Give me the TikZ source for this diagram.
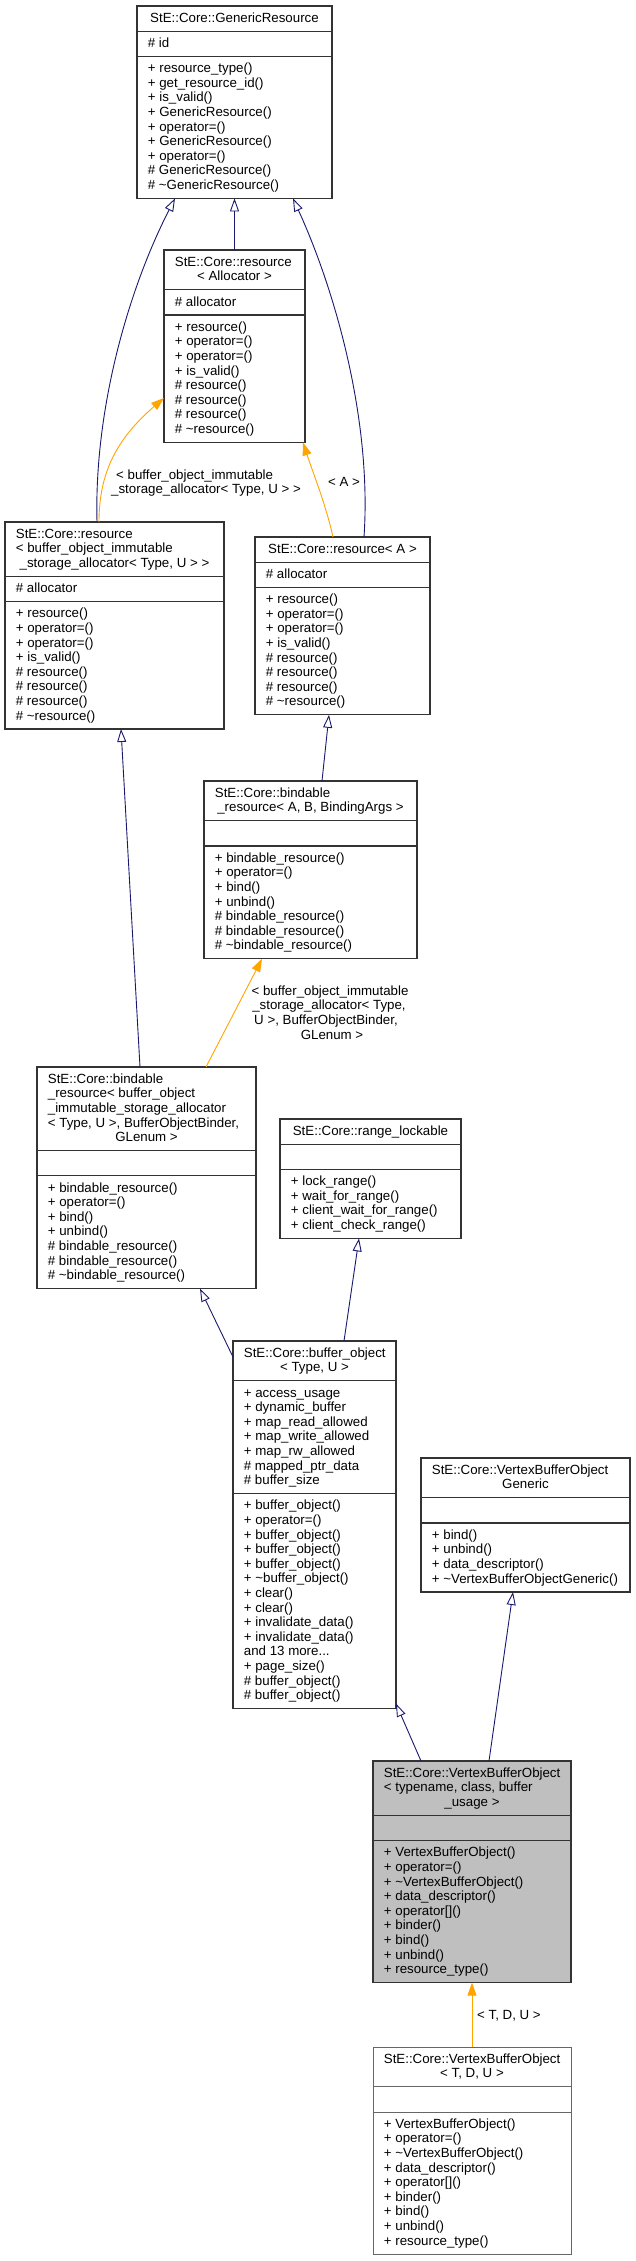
\documentclass[tikz,border=0pt]{standalone}
\usepackage{fontspec}
\setmainfont{Liberation Sans}
\usetikzlibrary{arrows.meta,calc}
\definecolor{edgeblue}{HTML}{191970}
\definecolor{edgeorange}{HTML}{FFA500}
\definecolor{boxc}{HTML}{333333}
\definecolor{greyc}{HTML}{666666}
\definecolor{fillgrey}{HTML}{BFBFBF}
\newcommand\umlbox[8]{%
  \pgfmathsetmacro\hA{#5*14.6+10.6}%
  \pgfmathsetmacro\hB{#6*14.6+10.6}%
  \pgfmathsetmacro\hC{#7*14.6+10.6}%
  \pgfmathsetmacro\hT{\hA+\hB+\hC}%
  \pgfmathsetmacro\hAB{\hA+\hB}%
  \pgfmathsetmacro\bx{#2+10.7}%
  \pgfmathsetmacro\bc{#2+#4/2}%
  \pgfmathsetmacro\syA{#3+16.3}%
  \pgfmathsetmacro\syB{#3+\hA+16.3}%
  \pgfmathsetmacro\syC{#3+\hAB+16.3}%
  \node[#8, minimum width=#4pt, minimum height=\hT pt, anchor=north west] (#1) at (#2,#3) {};%
  \draw[#8] ($(#1.north west)+(0,\hA)$) -- ($(#1.north east)+(0,\hA)$);%
  \draw[#8] ($(#1.north west)+(0,\hAB)$) -- ($(#1.north east)+(0,\hAB)$);%
}
\newcommand\secA{\let\lx\bx\let\ly\syA}
\newcommand\secB{\let\lx\bx\let\ly\syB}
\newcommand\secC{\let\lx\bx\let\ly\syC}
\newcount\tn
\newcommand\umlL[1]{\global\advance\tn by 1\relax\node[txt] (t\the\tn) at (\lx,\ly) {#1};\pgfmathsetmacro\ly{\ly+14.6}}
\newcommand\umlC[1]{\global\advance\tn by 1\relax\node[ctxt] (t\the\tn) at (\bc,\ly) {#1};\pgfmathsetmacro\ly{\ly+14.6}}
\begin{document}
\begin{tikzpicture}[x=1pt,y=-1pt,
  txt/.style={anchor=base west, inner sep=0pt, font=\fontsize{13.3}{14.6}\selectfont},
  ctxt/.style={anchor=base, inner sep=0pt, font=\fontsize{13.3}{14.6}\selectfont},
  box/.style={draw=boxc, line width=1.1pt, fill=white, inner sep=0pt, outer sep=0pt},
  greybox/.style={draw=greyc, line width=0.8pt, fill=white, inner sep=0pt, outer sep=0pt},
  focusbox/.style={draw=boxc, line width=1.1pt, fill=fillgrey, inner sep=0pt, outer sep=0pt},
  inh/.style={draw=edgeblue, line width=0.9pt, -{Triangle[open, length=13pt, width=9pt]}},
  tmpl/.style={draw=edgeorange, line width=0.9pt, -{Triangle[length=13pt, width=9pt]}},
  lab/.style={anchor=base west, inner sep=0pt, font=\fontsize{13.3}{14.6}\selectfont},
  clab/.style={anchor=base, inner sep=0pt, font=\fontsize{13.3}{14.6}\selectfont}]
\fill[white] (0,0) rectangle (635,2261);
\useasboundingbox (0,0) rectangle (635,2261);

% GenericResource
\umlbox{gr}{137}{6}{195}{1}{1}{9}{box}
\secA \umlC{StE::Core::GenericResource}
\secB \umlL{\# id}
\secC \umlL{+ resource\_type()} \umlL{+ get\_resource\_id()} \umlL{+ is\_valid()}
\umlL{+ GenericResource()} \umlL{+ operator=()} \umlL{+ GenericResource()}
\umlL{+ operator=()} \umlL{\# GenericResource()} \umlL{\# \textasciitilde GenericResource()}

% resource<Allocator>
\umlbox{ra}{164}{250}{141}{2}{1}{8}{box}
\secA \umlL{StE::Core::resource} \umlC{< Allocator >}
\secB \umlL{\# allocator}
\secC \umlL{+ resource()} \umlL{+ operator=()} \umlL{+ operator=()} \umlL{+ is\_valid()}
\umlL{\# resource()} \umlL{\# resource()} \umlL{\# resource()} \umlL{\# \textasciitilde resource()}

% resource<buffer_object_immutable...>
\umlbox{rb}{5}{522}{219}{3}{1}{8}{box}
\secA \umlL{StE::Core::resource} \umlL{< buffer\_object\_immutable} \umlC{\_storage\_allocator< Type, U > >}
\secB \umlL{\# allocator}
\secC \umlL{+ resource()} \umlL{+ operator=()} \umlL{+ operator=()} \umlL{+ is\_valid()}
\umlL{\# resource()} \umlL{\# resource()} \umlL{\# resource()} \umlL{\# \textasciitilde resource()}

% resource<A>
\umlbox{rA}{255}{537}{175}{1}{1}{8}{box}
\secA \umlC{StE::Core::resource< A >}
\secB \umlL{\# allocator}
\secC \umlL{+ resource()} \umlL{+ operator=()} \umlL{+ operator=()} \umlL{+ is\_valid()}
\umlL{\# resource()} \umlL{\# resource()} \umlL{\# resource()} \umlL{\# \textasciitilde resource()}

% bindable_resource<A,B,BindingArgs>
\umlbox{bAB}{204}{781}{213}{2}{1}{7}{box}
\secA \umlL{StE::Core::bindable} \umlC{\_resource< A, B, BindingArgs >}
\secC \umlL{+ bindable\_resource()} \umlL{+ operator=()} \umlL{+ bind()} \umlL{+ unbind()}
\umlL{\# bindable\_resource()} \umlL{\# bindable\_resource()} \umlL{\# \textasciitilde bindable\_resource()}

% bindable_resource<buffer...>
\umlbox{bb}{37}{1067}{219}{5}{1}{7}{box}
\secA \umlL{StE::Core::bindable} \umlL{\_resource< buffer\_object} \umlL{\_immutable\_storage\_allocator}
\umlL{< Type, U >, BufferObjectBinder,} \umlC{GLenum >}
\secC \umlL{+ bindable\_resource()} \umlL{+ operator=()} \umlL{+ bind()} \umlL{+ unbind()}
\umlL{\# bindable\_resource()} \umlL{\# bindable\_resource()} \umlL{\# \textasciitilde bindable\_resource()}

% range_lockable
\umlbox{rl}{280}{1119}{181}{1}{1}{4}{box}
\secA \umlC{StE::Core::range\_lockable}
\secC \umlL{+ lock\_range()} \umlL{+ wait\_for\_range()} \umlL{+ client\_wait\_for\_range()} \umlL{+ client\_check\_range()}

% buffer_object
\umlbox{bo}{233}{1341}{163}{2}{7}{14}{box}
\secA \umlL{StE::Core::buffer\_object} \umlC{< Type, U >}
\secB \umlL{+ access\_usage} \umlL{+ dynamic\_buffer} \umlL{+ map\_read\_allowed} \umlL{+ map\_write\_allowed}
\umlL{+ map\_rw\_allowed} \umlL{\# mapped\_ptr\_data} \umlL{\# buffer\_size}
\secC \umlL{+ buffer\_object()} \umlL{+ operator=()} \umlL{+ buffer\_object()} \umlL{+ buffer\_object()}
\umlL{+ buffer\_object()} \umlL{+ \textasciitilde buffer\_object()} \umlL{+ clear()} \umlL{+ clear()}
\umlL{+ invalidate\_data()} \umlL{+ invalidate\_data()} \umlL{and 13 more...} \umlL{+ page\_size()}
\umlL{\# buffer\_object()} \umlL{\# buffer\_object()}

% VertexBufferObjectGeneric
\umlbox{vg}{421}{1458}{209}{2}{1}{4}{box}
\secA \umlL{StE::Core::VertexBufferObject} \umlC{Generic}
\secC \umlL{+ bind()} \umlL{+ unbind()} \umlL{+ data\_descriptor()} \umlL{+ \textasciitilde VertexBufferObjectGeneric()}

% VertexBufferObject<typename,class,buffer_usage>
\umlbox{vbo}{373}{1761}{198}{3}{1}{9}{focusbox}
\secA \umlL{StE::Core::VertexBufferObject} \umlL{< typename, class, buffer} \umlC{\_usage >}
\secC \umlL{+ VertexBufferObject()} \umlL{+ operator=()} \umlL{+ \textasciitilde VertexBufferObject()}
\umlL{+ data\_descriptor()} \umlL{+ operator[]()} \umlL{+ binder()} \umlL{+ bind()} \umlL{+ unbind()}
\umlL{+ resource\_type()}

% VertexBufferObject<T,D,U>
\umlbox{vt}{373}{2047}{198}{2}{1}{9}{greybox}
\secA \umlL{StE::Core::VertexBufferObject} \umlC{< T, D, U >}
\secC \umlL{+ VertexBufferObject()} \umlL{+ operator=()} \umlL{+ \textasciitilde VertexBufferObject()}
\umlL{+ data\_descriptor()} \umlL{+ operator[]()} \umlL{+ binder()} \umlL{+ bind()} \umlL{+ unbind()}
\umlL{+ resource\_type()}

% edges
\draw[inh] (ra.north) -- (gr.south);
\draw[inh] ($(rb.north west)+(92,0)$) .. controls (94,410) and (128,290) .. ($(gr.south west)+(38,0)$);
\draw[inh] ($(rA.north west)+(109,0)$) .. controls (372,420) and (335,290) .. ($(gr.south west)+(156,0)$);
\draw[tmpl] ($(rb.north west)+(94,0)$) .. controls (99,475) and (115,440) .. ($(ra.north west)+(0,148)$);
\draw[tmpl] ($(rA.north west)+(78,0)$) .. controls (326,505) and (312,470) .. ($(ra.south west)+(139,0)$);
\draw[inh] ($(bb.north west)+(103,0)$) -- ($(rb.south west)+(116,0)$);
\draw[inh] ($(bAB.north west)+(118,0)$) -- ($(rA.south west)+(74,0)$);
\draw[tmpl] ($(bb.north west)+(169,0)$) -- ($(bAB.south west)+(58,0)$);
\draw[inh] ($(bo.north west)+(0,16)$) -- ($(bb.south west)+(163,0)$);
\draw[inh] ($(bo.north west)+(111,0)$) -- ($(rl.south west)+(79,0)$);
\draw[inh] ($(vbo.north west)+(48,0)$) -- ($(bo.south east)+(0,-5)$);
\draw[inh] ($(vbo.north west)+(116,0)$) -- ($(vg.south west)+(92,0)$);
\draw[tmpl] (vt.north) -- (vbo.south);

% edge labels
\node[lab] (l1a) at (116,479.5) {< buffer\_object\_immutable};
\node[lab] (l1b) at (111,493.5) {\_storage\_allocator< Type, U > >};
\node[lab] (l2) at (328,486.5) {< A >};
\node[clab] (l3a) at (330,995.5) {< buffer\_object\_immutable};
\node[clab] (l3b) at (329,1009.5) {\_storage\_allocator< Type,};
\node[clab] (l3c) at (326,1024.5) {U >, BufferObjectBinder,};
\node[clab] (l3d) at (332,1039.5) {GLenum >};
\node[lab] (l4) at (477,2019.5) {< T, D, U >};
\end{tikzpicture}
\end{document}
